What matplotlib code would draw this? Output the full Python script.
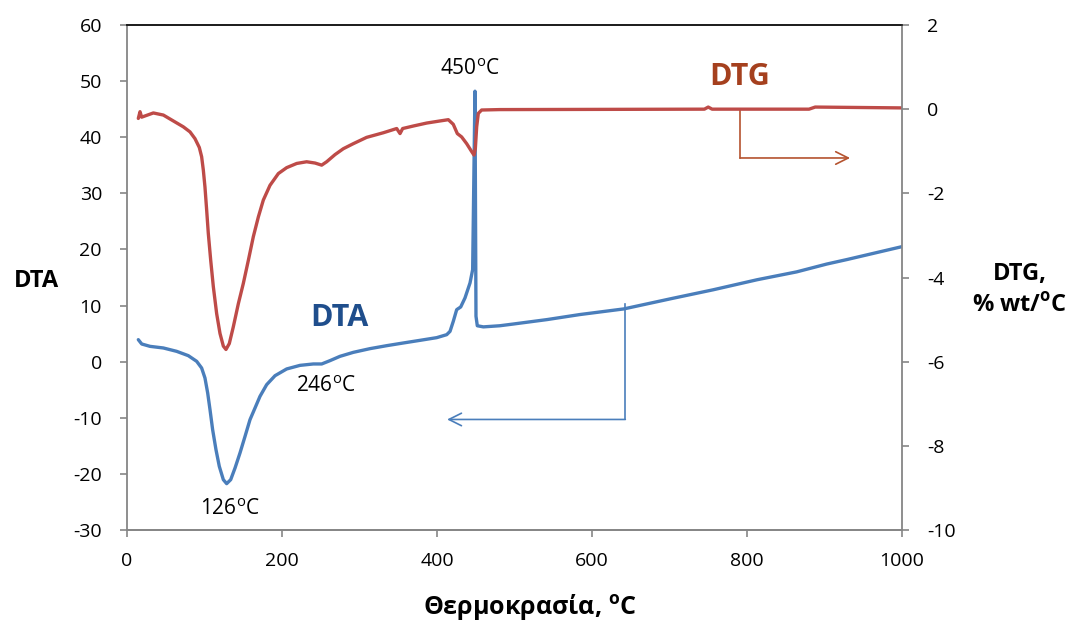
import matplotlib
matplotlib.use("Agg")
import matplotlib.pyplot as plt

plt.rcParams['font.family'] = ['Open Sans', 'DejaVu Sans']
plt.rcParams['mathtext.fontset'] = 'custom'
plt.rcParams['mathtext.rm'] = 'Open Sans'
plt.rcParams['mathtext.bf'] = 'Open Sans:bold'
plt.rcParams['axes.unicode_minus'] = False

# DTA (left axis)
dta_T = [14.6, 19, 29.7, 46.9, 64.1, 79.1, 89.9, 96.3, 100.6, 104.1, 107.1, 110.5,
         114.8, 119.1, 124.3, 128.6, 133.8, 139.4, 145.8, 152.3, 158.7, 165.2,
         171.6, 180.2, 191, 206, 223.2, 240.4, 251.2, 261.9, 274.8, 292, 313.5,
         335.1, 356.5, 378, 399.6, 412.5, 416.8, 421, 425.4, 430.6, 436.1, 442.6,
         446, 449, 450.3, 452, 459.8, 481, 498, 542, 584.5, 641, 704.5, 756, 813,
         864, 903, 929, 1000]
dta_v = [3.92, 3.15, 2.73, 2.44, 1.84, 1.07, 0.06, -1.13, -2.91, -5.58, -8.55,
         -12.12, -15.68, -18.66, -21.03, -21.74, -21.03, -18.95, -16.27, -13.31,
         -10.34, -8.25, -6.18, -4.10, -2.50, -1.30, -0.66, -0.41, -0.41, 0.18,
         0.95, 1.66, 2.32, 2.85, 3.33, 3.80, 4.28, 4.81, 5.40, 7.18, 9.27, 9.75,
         11.35, 14.03, 16.4, 48.2, 8.1, 6.4, 6.2, 6.4, 6.7, 7.5, 8.4, 9.4, 11.3,
         12.8, 14.6, 16.0, 17.4, 18.2, 20.5]

# DTG (right axis, % wt/°C)
dtg_T = [14.6, 16.8, 18.9, 34, 46.9, 59.8, 72.7, 81.3, 87.7, 93.3, 96.3, 98.5,
         100.6, 102.8, 104.9, 108, 111.4, 115.7, 120, 124.3, 127.7, 132, 137.2,
         143.7, 150.1, 156.6, 163, 169.5, 175.9, 184.5, 195.3, 206, 219, 231.8,
         242.6, 251.2, 257.6, 268.4, 279.1, 292, 309.2, 330.8, 348, 352.3, 355.7,
         369.5, 386.7, 403.9, 414.6, 421, 426.2, 431.8, 438.3, 444.8, 447.7,
         449.5, 451.2, 453.3, 457.6, 481, 745, 750, 755, 880, 888, 1000]
dtg_v = [-0.22, -0.06, -0.19, -0.09, -0.14, -0.28, -0.42, -0.54, -0.70, -0.91,
         -1.13, -1.45, -1.85, -2.40, -2.95, -3.59, -4.22, -4.86, -5.33, -5.63,
         -5.71, -5.57, -5.17, -4.62, -4.14, -3.59, -3.03, -2.56, -2.16, -1.81,
         -1.53, -1.39, -1.29, -1.25, -1.28, -1.33, -1.25, -1.08, -0.94, -0.82,
         -0.67, -0.56, -0.46, -0.58, -0.46, -0.40, -0.33, -0.28, -0.25, -0.36,
         -0.58, -0.66, -0.82, -1.01, -1.09, -0.93, -0.42, -0.10, -0.02, -0.01,
         0.0, 0.05, 0.0, 0.0, 0.05, 0.03]

x_ticks = [0, 200, 400, 600, 800, 1000]
left_ticks = [-30, -20, -10, 0, 10, 20, 30, 40, 50, 60]
right_ticks = [-10, -8, -6, -4, -2, 0, 2]

blue = '#4A7EBB'
red = '#BE4B48'
gray = '#868686'

fig = plt.figure(figsize=(10.75, 6.26), dpi=100)
ax = fig.add_axes([127/1075, 1-530/626, 775/1075, 505/626])
ax2 = ax.twinx()

ax.plot(dta_T, dta_v, color=blue, lw=2.4, solid_joinstyle='round',
        solid_capstyle='round', zorder=3)
ax2.plot(dtg_T, dtg_v, color=red, lw=2.4, solid_joinstyle='round',
         solid_capstyle='round', zorder=2)

ax.set_xlim(0, 1000)
ax.set_ylim(-30, 60)
ax2.set_ylim(-10, 2)
ax.set_xticks(x_ticks)
ax.set_yticks(left_ticks)
ax2.set_yticks(right_ticks)

for a in (ax, ax2):
    for s in ('left', 'right', 'bottom'):
        a.spines[s].set_color(gray)
        a.spines[s].set_linewidth(1.3)
    a.spines['top'].set_color('#1a1a1a')
    a.spines['top'].set_linewidth(1.2)
    a.tick_params(direction='out', length=5, width=1.2, color=gray,
                  labelsize=14, labelcolor='black')
ax.tick_params(axis='y', pad=13)
ax2.tick_params(axis='y', pad=13)
ax.tick_params(axis='x', pad=11)
ax.spines['right'].set_visible(False)
ax2.spines['left'].set_visible(False)

deg = r'$^{\mathrm{o}}$'
ax.text(443, 52.0, '450' + deg + 'C', ha='center', va='center', fontsize=15)
ax.text(257, -4.5, '246' + deg + 'C', ha='center', va='center', fontsize=15)
ax.text(133, -26.4, '126' + deg + 'C', ha='center', va='center', fontsize=15)
ax.text(274, 7.8, 'DTA', ha='center', va='center', fontsize=22,
        fontweight='bold', color='#1F4E8C')
ax.text(791, 50.8, 'DTG', ha='center', va='center', fontsize=22,
        fontweight='bold', color='#A5401E')

# DTA arrow (points to left axis)
ax.plot([643, 643], [10.2, -10.3], color=blue, lw=1.2, zorder=2)
ax.annotate('', xy=(413, -10.3), xytext=(643, -10.3),
            arrowprops=dict(arrowstyle='->,head_length=0.9,head_width=0.45',
                            color=blue, lw=1.2, shrinkA=0, shrinkB=0))
# DTG arrow (points to right axis)
arrow_red = '#B5532F'
ax2.plot([791, 791], [0, -1.16], color=arrow_red, lw=1.2, zorder=1)
ax2.annotate('', xy=(933, -1.16), xytext=(791, -1.16),
             arrowprops=dict(arrowstyle='->,head_length=0.9,head_width=0.45',
                             color=arrow_red, lw=1.2, shrinkA=0, shrinkB=0))

fig.text(36/1075, 1-281/626, 'DTA', ha='center', va='center', fontsize=17,
         fontweight='bold')
fig.text(1020/1075, 1-290/626, 'DTG,\n% wt/' + r'$^{\mathbf{o}}$' + 'C',
         ha='center', va='center', fontsize=17, fontweight='bold',
         linespacing=1.4)
fig.text(530/1075, 1-607/626, 'Θερμοκρασία, ' + r'$^{\mathbf{o}}$' + 'C',
         ha='center', va='center', fontsize=18, fontweight='bold')

fig.savefig('out.png', dpi=100)
